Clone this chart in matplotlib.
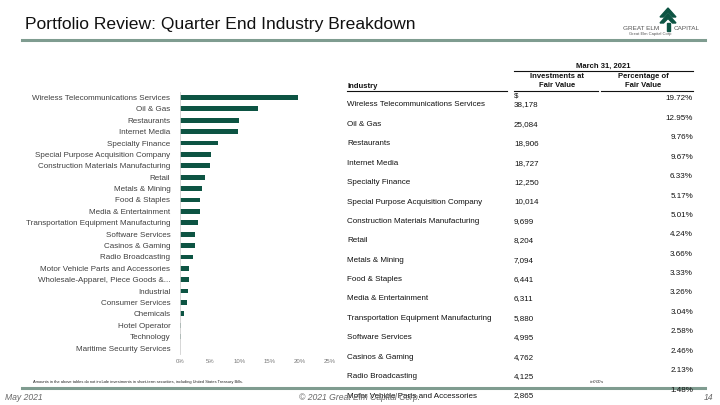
import matplotlib.pyplot as plt
from matplotlib.lines import Line2D
from matplotlib.patches import Polygon, Rectangle

plt.rcParams['font.family'] = ['Liberation Sans', 'DejaVu Sans']

W, H = 720, 405

# bar chart data (share of fair value, %)
industries = [
    'Wireless Telecommunications Services', 'Oil & Gas', 'Restaurants', 'Internet Media',
    'Specialty Finance', 'Special Purpose Acquisition Company',
    'Construction Materials Manufacturing', 'Retail', 'Metals & Mining', 'Food & Staples',
    'Media & Entertainment', 'Transportation Equipment Manufacturing', 'Software Services',
    'Casinos & Gaming', 'Radio Broadcasting', 'Motor Vehicle Parts and Accessories',
    'Wholesale-Apparel, Piece Goods &...', 'Industrial', 'Consumer Services', 'Chemicals',
    'Hotel Operator', 'Technology', 'Maritime Security Services',
]
shares = [19.72, 12.95, 9.76, 9.67, 6.33, 5.17, 5.01, 4.24, 3.66, 3.33, 3.26, 3.04,
          2.58, 2.46, 2.13, 1.48, 1.45, 1.25, 1.15, 0.70, 0.15, 0.12, 0.02]
xticks = [0, 5, 10, 15, 20, 25]

# table rows (visible part of the slide)
table_names = industries[:16]
table_values = ['38,178', '25,084', '18,906', '18,727', '12,250', '10,014', '9,699', '8,204',
                '7,094', '6,441', '6,311', '5,880', '4,995', '4,762', '4,125', '2,865']
table_pcts = ['19.72%', '12.95%', '9.76%', '9.67%', '6.33%', '5.17%', '5.01%', '4.24%',
              '3.66%', '3.33%', '3.26%', '3.04%', '2.58%', '2.46%', '2.13%', '1.48%']

green = '#0d5443'
rule = '#7f9c90'
grey = '#404040'


def fx(x):
    return x / W


def fy(y):
    return 1 - y / H


fig = plt.figure(figsize=(7.2, 4.05), dpi=100)

# header
fig.text(fx(25), fy(25), 'Portfolio Review: Quarter End Industry Breakdown',
         fontsize=12.6, color='#111111', va='center', ha='left')
fig.add_artist(Line2D([fx(22), fx(705)], [fy(40), fy(40)], color=rule, lw=2.2))

# logo
fig.add_artist(Polygon([[fx(668), fy(8)], [fx(660), fy(17)], [fx(663.5), fy(17)], [fx(668), fy(12.5)],
                        [fx(672.5), fy(17)], [fx(676), fy(17)]], closed=True, color=green))
fig.add_artist(Polygon([[fx(668), fy(14)], [fx(660), fy(23)], [fx(663.5), fy(23)], [fx(668), fy(18.5)],
                        [fx(672.5), fy(23)], [fx(676), fy(23)]], closed=True, color=green))
fig.add_artist(Rectangle((fx(666.5), fy(31)), fx(3), 8 / H, color=green))
fig.text(fx(659), fy(28), 'GREAT ELM', fontsize=4.6, color='#555555', ha='right', va='center')
fig.text(fx(674), fy(28), 'CAPITAL', fontsize=4.6, color='#555555', ha='left', va='center')
fig.text(fx(629), fy(34.5), 'Great Elm Capital Corp', fontsize=3.0, color='#555555', ha='left', va='center')

# bar chart
ax = fig.add_axes([fx(180), fy(353.7), fx(150), (353.7 - 91.8) / H])
pos = list(range(len(industries)))
ax.barh(pos, shares, height=0.42, color=green)
ax.set_ylim(len(industries) - 0.5, -0.5)
ax.set_xlim(0, 25)
ax.set_yticks(pos)
ax.set_yticklabels(industries, fontsize=5.8, color=grey)
ax.set_xticks(xticks)
ax.set_xticklabels([f'{t}%' for t in xticks], fontsize=4.3, color='#777777')
ax.tick_params(axis='x', length=0, pad=4)
ax.tick_params(axis='y', length=0, pad=7)
for s in ['top', 'right', 'bottom']:
    ax.spines[s].set_visible(False)
ax.spines['left'].set_color('#d0d0d0')
ax.spines['left'].set_linewidth(0.6)

# table header
hb = dict(fontsize=5.5, fontweight='bold', color='#111111')
fig.text(fx(603), fy(66), 'March 31, 2021', ha='center', va='center', **hb)
fig.text(fx(557), fy(76.5), 'Investments at', ha='center', va='center', **hb)
fig.text(fx(557), fy(85.5), 'Fair Value', ha='center', va='center', **hb)
fig.text(fx(643), fy(76.5), 'Percentage of', ha='center', va='center', **hb)
fig.text(fx(643), fy(85.5), 'Fair Value', ha='center', va='center', **hb)
fig.text(fx(347), fy(86), 'Industry', ha='left', va='center', **hb)
for x0, x1, y in [(514, 693, 71), (347, 507, 90.5), (514, 598, 90.5), (601, 693, 90.5)]:
    fig.add_artist(Line2D([fx(x0), fx(x1)], [fy(y), fy(y)], color='#111111', lw=0.8))

fig.text(fx(514), fy(96), '$', fontsize=5.7, color='#111111', ha='left', va='center')
row0, step = 105, 19.4
for i, (n, v, p) in enumerate(zip(table_names, table_values, table_pcts)):
    y = row0 + i * step
    fig.text(fx(347), fy(y), n, fontsize=5.75, color='#111111', ha='left', va='center')
    fig.text(fx(514), fy(y), v, fontsize=5.75, color='#111111', ha='left', va='center')
    fig.text(fx(693), fy(y - 6), p, fontsize=5.75, color='#111111', ha='right', va='center')

# footer
fig.text(fx(33), fy(382), 'Amounts in the above tables do not include investments in short-term securities, '
         'including United States Treasury Bills.', fontsize=2.9, color='#222222', ha='left', va='center')
fig.text(fx(597), fy(381.5), '$ in $000s', fontsize=3.2, color='#222222', style='italic',
         ha='center', va='center')
fig.add_artist(Line2D([fx(22), fx(705)], [fy(388), fy(388)], color=rule, lw=2.2))
fig.text(fx(5), fy(397), 'May 2021', fontsize=6.2, color='#666666', style='italic', ha='left', va='center')
fig.text(fx(360), fy(397), '\u00a9 2021 Great Elm Capital Corp.', fontsize=6.2, color='#666666',
         style='italic', ha='center', va='center')
fig.text(fx(713), fy(397), '14', fontsize=6.2, color='#666666', style='italic', ha='right', va='center')

fig.savefig('out.png', dpi=100)
